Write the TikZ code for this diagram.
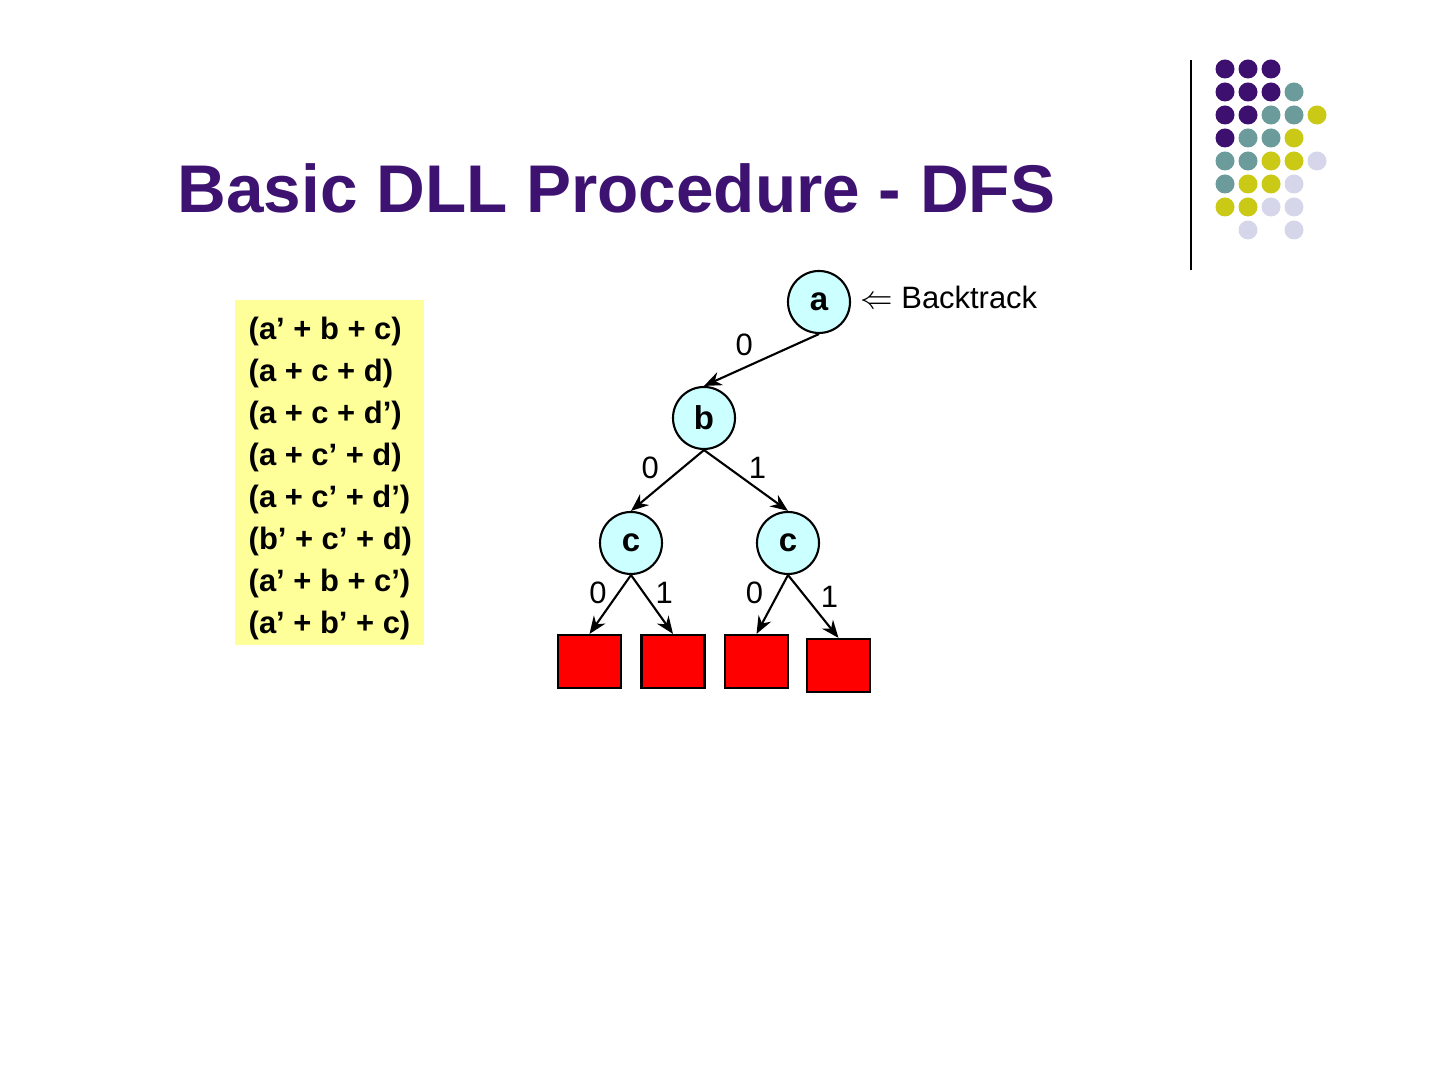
\documentclass[tikz,border=0pt]{standalone}
\usepackage{fontspec}
\setmainfont{Liberation Sans}
\usetikzlibrary{arrows.meta, positioning}

\definecolor{titlepurple}{HTML}{3D1271}
\definecolor{dotpurple}{HTML}{3D0F6E}
\definecolor{dotteal}{HTML}{6B9B9B}
\definecolor{dotolive}{HTML}{C9C916}
\definecolor{dotlav}{HTML}{D6D6EB}
\definecolor{nodecyan}{HTML}{CCFFFF}
\definecolor{clauseyellow}{HTML}{FFFF99}

\tikzset{
  var/.style={draw, circle, line width=0.6pt, fill=nodecyan, minimum size=0.62cm, inner sep=0pt, font=\fontsize{9.4}{11}\selectfont\bfseries},
  conflict/.style={draw, line width=0.6pt, fill=red, minimum width=0.63cm, minimum height=0.53cm, inner sep=0pt},
  branch/.style={-{Stealth[length=5pt, width=4pt]}, line width=0.6pt},
  lbl/.style={font=\fontsize{8.8}{10}\selectfont, inner sep=1pt},
}

\begin{document}
\begin{tikzpicture}
\useasboundingbox (0,0) rectangle (14.4,10.8);

% title
\node[anchor=base west, inner sep=0pt, text=titlepurple, font=\fontsize{19.2}{22}\selectfont\bfseries] (title) at (1.77,8.67) {Basic DLL Procedure - DFS};

% corner decoration
\draw[line width=0.6pt] (11.91,10.2) -- (11.91,8.1);
\foreach \c/\r/\col in {0/0/dotpurple,1/0/dotpurple,2/0/dotpurple,
  0/1/dotpurple,1/1/dotpurple,2/1/dotpurple,3/1/dotteal,
  0/2/dotpurple,1/2/dotpurple,2/2/dotteal,3/2/dotteal,4/2/dotolive,
  0/3/dotpurple,1/3/dotteal,2/3/dotteal,3/3/dotolive,
  0/4/dotteal,1/4/dotteal,2/4/dotolive,3/4/dotolive,4/4/dotlav,
  0/5/dotteal,1/5/dotolive,2/5/dotolive,3/5/dotlav,
  0/6/dotolive,1/6/dotolive,2/6/dotlav,3/6/dotlav,
  1/7/dotlav,3/7/dotlav}
  \fill[\col] (12.25+0.23*\c,10.11-0.23*\r) circle (0.095);

% clauses
\fill[clauseyellow] (2.35,4.35) rectangle (4.24,7.80);
\foreach \cl [count=\i from 0] in {(a’ + b + c),(a + c + d),(a + c + d’),(a + c’ + d),(a + c’ + d’),(b’ + c’ + d),(a’ + b + c’),(a’ + b’ + c)}
  \node[anchor=base west, inner sep=0pt, font=\fontsize{8.8}{10}\selectfont\bfseries] (cl\i) at (2.48,7.40-0.42*\i) {\cl};

% search tree
\node[var] (a) at (8.19,7.78) {a};
\node[var] (b) at (7.04,6.62) {b};
\node[var] (c0) at (6.31,5.37) {c};
\node[var] (c1) at (7.88,5.37) {c};
\node[conflict] (s00) at (5.895,4.185) {};
\node[conflict] (s01) at (6.73,4.185) {};
\node[conflict] (s10) at (7.565,4.185) {};
\node[conflict] (s11) at (8.385,4.145) {};

\node[lbl, right=0.05cm of a, yshift=0.05cm] (back) {$\Leftarrow$ Backtrack};

\draw[branch] (a.south) -- node[lbl, pos=0.65, above=2pt] {0} (b.north);
\draw[branch] (b.south) -- node[lbl, pos=0.29, left=5.5pt] {0} (c0.north);
\draw[branch] (b.south) -- node[lbl, pos=0.29, right=4.5pt] {1} (c1.north);
\draw[branch] (c0.south) -- node[lbl, pos=0.31, left=2pt] {0} (s00.north);
\draw[branch] (c0.south) -- node[lbl, pos=0.31, right=2pt] {1} (s01.north);
\draw[branch] (c1.south) -- node[lbl, pos=0.31, left=3pt] {0} (s10.north);
\draw[branch] (c1.south) -- node[lbl, pos=0.35, right=3pt] {1} (s11.north);
\end{tikzpicture}
\end{document}
